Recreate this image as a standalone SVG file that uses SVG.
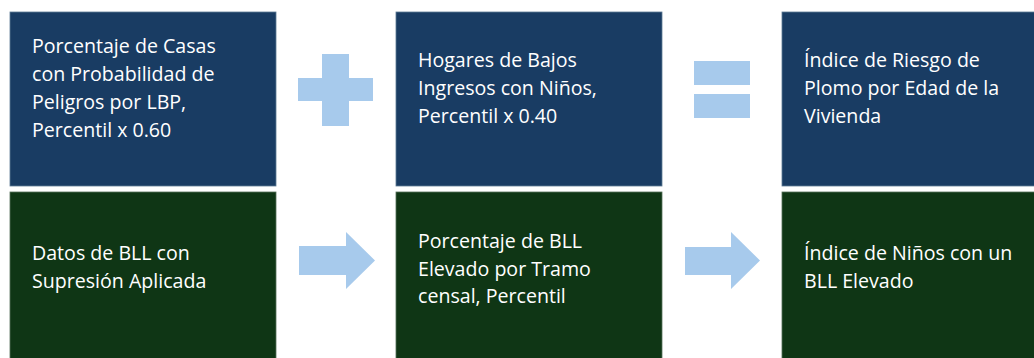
<svg xmlns="http://www.w3.org/2000/svg" width="1034" height="358" viewBox="0 0 1034 358">
<style>
.top{fill:#193C63;stroke:#5d7a95;stroke-width:0.8}
.bot{fill:#0F3615;stroke:#56705a;stroke-width:0.8}
.sym{fill:#A7CAEC}
text{font-family:"Open Sans","Liberation Sans",sans-serif;font-size:19.6px;fill:#FFFFFF}
</style>
<rect width="1034" height="358" fill="#FFFFFF"/>
<g id="node-casas"><rect class="top" x="10" y="12" width="266" height="174"/>
<text x="32"><tspan x="32" y="53">Porcentaje de Casas</tspan><tspan x="32" y="81">con Probabilidad de</tspan><tspan x="32" y="109">Peligros por LBP,</tspan><tspan x="32" y="137">Percentil x 0.60</tspan></text></g>
<g id="node-hogares"><rect class="top" x="396" y="12" width="266" height="174"/>
<text><tspan x="418" y="67">Hogares de Bajos</tspan><tspan x="418" y="95">Ingresos con Niños,</tspan><tspan x="418" y="123">Percentil x 0.40</tspan></text></g>
<g id="node-indice-riesgo"><rect class="top" x="782" y="12" width="253" height="174"/>
<text><tspan x="804" y="67">Índice de Riesgo de</tspan><tspan x="804" y="95">Plomo por Edad de la</tspan><tspan x="804" y="123">Vivienda</tspan></text></g>
<g id="node-datos"><rect class="bot" x="10" y="192" width="266" height="167"/>
<text><tspan x="32" y="260">Datos de BLL con</tspan><tspan x="32" y="288">Supresión Aplicada</tspan></text></g>
<g id="node-porcentaje-bll"><rect class="bot" x="396" y="192" width="266" height="167"/>
<text><tspan x="418" y="248">Porcentaje de BLL</tspan><tspan x="418" y="276">Elevado por Tramo</tspan><tspan x="418" y="303">censal, Percentil</tspan></text></g>
<g id="node-indice-ninos"><rect class="bot" x="782" y="192" width="253" height="167"/>
<text><tspan x="804" y="260">Índice de Niños con un</tspan><tspan x="804" y="288">BLL Elevado</tspan></text></g>
<g id="connectors">
<path class="sym" d="M322,54 H349 V78 H373 V101 H349 V126 H322 V101 H298 V78 H322 Z"/>
<rect class="sym" x="694" y="61" width="56" height="24"/>
<rect class="sym" x="694" y="94" width="56" height="24"/>
<path class="sym" d="M299,246 H346 V232 L375,260.5 L346,289 V275 H299 Z"/>
<path class="sym" d="M685,247 H731 V232 L760,260.5 L731,289 V275 H685 Z"/>
</g>
</svg>
